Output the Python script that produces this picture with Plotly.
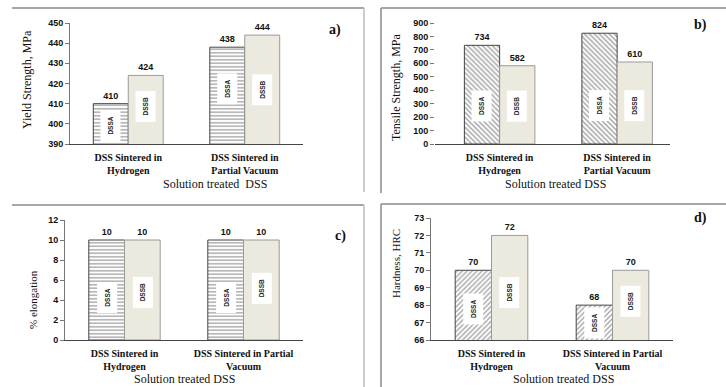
import plotly.graph_objects as go

# ---- data -------------------------------------------------------------
categories_ab = ["DSS Sintered in<br>Hydrogen", "DSS Sintered in<br>Partial Vacuum"]
categories_cd = ["DSS Sintered in<br>Hydrogen", "DSS Sintered in Partial<br>Vacuum"]
series_names = ["DSSA", "DSSB"]

yield_dssa = [410, 438]
yield_dssb = [424, 444]
tensile_dssa = [734, 824]
tensile_dssb = [582, 610]
elong_dssa = [10, 10]
elong_dssb = [10, 10]
hard_dssa = [70, 68]
hard_dssb = [72, 70]

yield_ticks = [390, 400, 410, 420, 430, 440, 450]
tensile_ticks = [0, 100, 200, 300, 400, 500, 600, 700, 800, 900]
elong_ticks = [0, 2, 4, 6, 8, 10, 12]
hard_ticks = [66, 67, 68, 69, 70, 71, 72, 73]

# ---- styling / layout -------------------------------------------------
W, H = 726, 387
BEIGE = "#ECE9DE"
SERIF = "Liberation Serif"
SANS = "Liberation Sans"


def fx(px):
    return px / W


def fy(px):
    return 1 - px / H


panels = [
    dict(key="", x0=70, x1=303, y0=23, y1=144, rng=[390, 450], ticks=yield_ticks,
         cats=categories_ab, a=yield_dssa, b=yield_dssb, pat="-",
         ytitle="Yield Strength, MPa", ytx=27, yty=80, ytsize=12,
         xtitle="Solution treated  DSS", xtx=215, xty=184,
         tag="a)", tagx=335, tagy=30, yline=True,
         box_y=[[399, 417.5], [408.5, 417]]),
    dict(key="2", x0=435, x1=670, y0=23, y1=144, rng=[0, 900], ticks=tensile_ticks,
         cats=categories_ab, a=tensile_dssa, b=tensile_dssb, pat="\\",
         ytitle="Tensile Strength, MPa", ytx=396, yty=87, ytsize=12,
         xtitle="Solution treated DSS", xtx=555, xty=184,
         tag="b)", tagx=700, tagy=25, yline=False, xrange=[-0.55, 1.45],
         box_y=[[283, 283], [283, 283]]),
    dict(key="3", x0=65, x1=303, y0=220, y1=340, rng=[0, 12], ticks=elong_ticks,
         cats=categories_cd, a=elong_dssa, b=elong_dssb, pat="-",
         ytitle="% elongation", ytx=33, yty=300, ytsize=11,
         xtitle="Solution treated DSS", xtx=184, xty=379,
         tag="c)", tagx=340, tagy=236, yline=True,
         box_y=[[4.2, 4.2], [4.8, 5.2]]),
    dict(key="4", x0=431, x1=673, y0=218, y1=340, rng=[66, 73], ticks=hard_ticks,
         cats=categories_cd, a=hard_dssa, b=hard_dssb, pat="/",
         ytitle="Hardness, HRC", ytx=396, yty=263, ytsize=11,
         xtitle="Solution treated DSS", xtx=563, xty=379,
         tag="d)", tagx=700, tagy=218, yline=True,
         box_y=[[67.8, 67.0], [68.7, 68.2]]),
]

fig = go.Figure()
annotations = []


def paper_text(x, y, text, size, bold=False, angle=0):
    return dict(
        x=fx(x), y=fy(y), xref="paper", yref="paper", xanchor="center", yanchor="middle",
        text=text, textangle=angle, showarrow=False,
        font=dict(family=SERIF, size=size, color="#111111",
                  weight="bold" if bold else "normal"),
    )


for p in panels:
    xa = "x" + p["key"]
    ya = "y" + p["key"]
    fig.add_trace(go.Bar(
        x=p["cats"], y=p["a"], name=series_names[0], xaxis=xa, yaxis=ya,
        marker=dict(color="white",
                    line=dict(color="#444444", width=1),
                    pattern=dict(shape=p["pat"], fgcolor="#333333", bgcolor="white",
                                 size=3.5, solidity=0.35)),
        text=[str(v) for v in p["a"]], textposition="outside", cliponaxis=False,
        textfont=dict(family=SANS, size=9, color="#111111", weight="bold"),
        showlegend=False,
    ))
    fig.add_trace(go.Bar(
        x=p["cats"], y=p["b"], name=series_names[1], xaxis=xa, yaxis=ya,
        marker=dict(color=BEIGE, line=dict(color="#9a9a9a", width=1)),
        text=[str(v) for v in p["b"]], textposition="outside", cliponaxis=False,
        textfont=dict(family=SANS, size=9, color="#111111", weight="bold"),
        showlegend=False,
    ))

    axis_x = dict(
        domain=[fx(p["x0"]), fx(p["x1"])], anchor=ya,
        showline=True, linecolor="#444444", linewidth=1,
        ticks="", showgrid=False, zeroline=False,
        tickfont=dict(family=SERIF, size=10, color="#111111", weight="bold"),
        tickangle=0, automargin=False, ticklabelstandoff=4,
    )
    if "xrange" in p:
        axis_x["range"] = p["xrange"]
    axis_y = dict(
        domain=[fy(p["y1"]), fy(p["y0"])], anchor=xa, range=p["rng"],
        tickvals=p["ticks"], ticks="outside", ticklen=4, tickcolor="#777777",
        showline=p["yline"], linecolor="#777777", linewidth=1,
        showgrid=False, zeroline=False,
        tickfont=dict(family=SANS, size=9, color="#111111", weight="bold"),
        automargin=False,
    )
    fig.update_layout(**{"xaxis" + p["key"]: axis_x, "yaxis" + p["key"]: axis_y})

    # white label boxes inside the bars
    for gi in range(2):
        for si, off in enumerate([-0.15, 0.15]):
            annotations.append(dict(
                x=gi + off, y=p["box_y"][si][gi], xref=xa, yref=ya,
                xanchor="center", yanchor="middle",
                text=series_names[si], showarrow=False, textangle=-90,
                bgcolor="white", borderpad=6,
                font=dict(family=SANS, size=6.5, color="#222222", weight="bold"),
            ))

    annotations.append(paper_text(p["ytx"], p["yty"], p["ytitle"], p["ytsize"], angle=-90))
    annotations.append(paper_text(p["xtx"], p["xty"], p["xtitle"], 12))
    annotations.append(paper_text(p["tagx"], p["tagy"], p["tag"], 14, bold=True))

# panel frames
shapes = []
light = dict(color="#bdbdbd", width=1.5)
dark = dict(color="#8a8a8a", width=1.5)
for top, bottom in [(8, 192), (205, 387)]:
    shapes.append(dict(type="line", xref="paper", yref="paper",
                       x0=fx(12), x1=fx(364), y0=fy(top), y1=fy(top), line=dark))
    shapes.append(dict(type="line", xref="paper", yref="paper",
                       x0=fx(364), x1=fx(364), y0=fy(top), y1=fy(bottom), line=light))
for top, bottom in [(8, 193), (204, 387)]:
    shapes.append(dict(type="line", xref="paper", yref="paper",
                       x0=fx(381), x1=fx(726), y0=fy(top), y1=fy(top), line=dark))
    shapes.append(dict(type="line", xref="paper", yref="paper",
                       x0=fx(381), x1=fx(381), y0=fy(top), y1=fy(bottom), line=dark))

fig.update_layout(
    width=W, height=H, margin=dict(l=0, r=0, t=0, b=0),
    paper_bgcolor="white", plot_bgcolor="white",
    barmode="group", bargap=0.4, bargroupgap=0,
    annotations=annotations, shapes=shapes,
    font=dict(family=SERIF),
)

fig.write_html("out.html")
